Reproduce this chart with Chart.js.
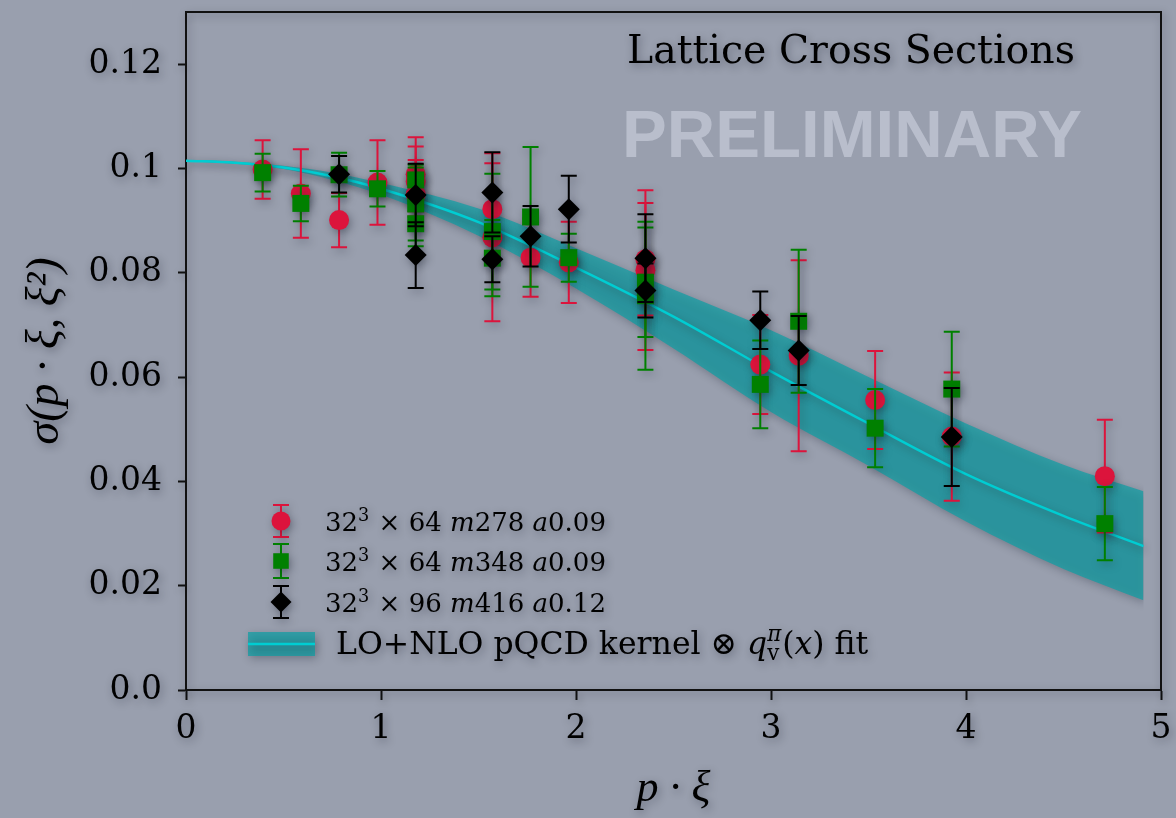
<!DOCTYPE html>
<html>
<head>
<meta charset="utf-8">
<script src="https://cdn.jsdelivr.net/npm/chart.js@4.4.1/dist/chart.umd.min.js"></script>
<style>
  html, body { margin: 0; padding: 0; background: #999fae; }
  #wrap { position: relative; width: 1176px; height: 818px; }
</style>
</head>
<body>
<div id="wrap"><canvas id="myChart"></canvas></div>
<script>
// axis ticks
const xTicks = [0, 1, 2, 3, 4, 5];
const yTicks = [0, 0.02, 0.04, 0.06, 0.08, 0.1, 0.12];
const yTickLabels = ['0.0', '0.02', '0.04', '0.06', '0.08', '0.1', '0.12'];

// 32^3 x 64 m278 a0.09
const redX = [0.393, 0.589, 0.785, 0.982, 1.178, 1.178, 1.178, 1.571, 1.571, 1.767, 1.963, 2.356, 2.356, 2.945, 3.142, 3.534, 3.927, 4.712];
const redY = [0.0998, 0.0952, 0.0901, 0.0973, 0.0989, 0.0975, 0.0950, 0.0922, 0.0868, 0.0829, 0.0820, 0.0826, 0.0805, 0.0624, 0.0641, 0.0556, 0.0486, 0.0410];
const redErr = [0.0056, 0.0085, 0.0052, 0.0081, 0.0071, 0.0067, 0.0066, 0.0088, 0.0161, 0.0075, 0.0078, 0.0108, 0.0153, 0.0095, 0.0183, 0.0094, 0.0123, 0.0108];

// 32^3 x 64 m348 a0.09
const greenX = [0.393, 0.589, 0.785, 0.982, 1.178, 1.178, 1.178, 1.571, 1.571, 1.767, 1.963, 2.356, 2.356, 2.945, 3.142, 3.534, 3.927, 4.712];
const greenY = [0.0992, 0.0933, 0.0988, 0.0961, 0.0978, 0.0932, 0.0894, 0.0879, 0.0828, 0.0907, 0.0829, 0.0782, 0.0756, 0.0586, 0.0707, 0.0502, 0.0577, 0.0319];
const greenErr = [0.0036, 0.0034, 0.0042, 0.0034, 0.0029, 0.0070, 0.0043, 0.0111, 0.0073, 0.0134, 0.0046, 0.0105, 0.0142, 0.0084, 0.0137, 0.0075, 0.0110, 0.0070];

// 32^3 x 96 m416 a0.12
const blackX = [0.785, 1.178, 1.178, 1.571, 1.571, 1.767, 1.963, 2.356, 2.356, 2.945, 3.142, 3.927];
const blackY = [0.0989, 0.0949, 0.0834, 0.0954, 0.0826, 0.0870, 0.0922, 0.0828, 0.0766, 0.0709, 0.0651, 0.0485];
const blackErr = [0.0035, 0.0060, 0.0063, 0.0077, 0.0044, 0.0058, 0.0064, 0.0084, 0.0052, 0.0055, 0.0066, 0.0094];

// pQCD kernel fit: central value and band
const fitX = [0, 0.25, 0.5, 0.75, 1.0, 1.5, 2.0, 2.5, 3.0, 3.5, 4.0, 4.5, 4.91];
const fitMid = [0.1015, 0.1011, 0.1002, 0.0985, 0.0961, 0.0897, 0.0810, 0.0716, 0.0611, 0.0511, 0.0414, 0.0334, 0.0276];
const fitHigh = [0.1016, 0.1013, 0.1005, 0.0992, 0.0972, 0.0923, 0.0847, 0.0768, 0.0690, 0.0600, 0.0511, 0.0432, 0.0381];
const fitLow = [0.1014, 0.1009, 0.0999, 0.0978, 0.0950, 0.0871, 0.0770, 0.0655, 0.0533, 0.0430, 0.0323, 0.0232, 0.0172];

const RED = '#dc143c', GREEN = '#008000', BLACK = '#000000';
const BAND = 'rgba(14, 158, 164, 0.72)', LINE = '#00cdd2';

const pts = (xs, ys) => xs.map((x, i) => ({ x: x, y: ys[i] }));

function setShadow(ctx) {
    ctx.shadowColor = 'rgba(20, 25, 40, 0.38)';
    ctx.shadowBlur = 9;
    ctx.shadowOffsetX = 2;
    ctx.shadowOffsetY = 3;
}
function clearShadow(ctx) {
    ctx.shadowColor = 'rgba(0,0,0,0)';
    ctx.shadowBlur = 0;
    ctx.shadowOffsetX = 0;
    ctx.shadowOffsetY = 0;
}

// rich text: runs of {t, it, sup, sub}
function drawRuns(ctx, runs, x, y, size, family) {
    for (const r of runs) {
        if (r.sup || r.sub) {
            const s = size * 0.68;
            let w = 0;
            if (r.sup) {
                ctx.font = (r.supIt ? 'italic ' : '') + s + 'px ' + family;
                ctx.fillText(r.sup, x, y - size * 0.4);
                w = Math.max(w, ctx.measureText(r.sup).width);
            }
            if (r.sub) {
                ctx.font = s + 'px ' + family;
                ctx.fillText(r.sub, x, y + size * 0.2);
                w = Math.max(w, ctx.measureText(r.sub).width);
            }
            x += w + 1;
            continue;
        }
        ctx.font = (r.it ? 'italic ' : '') + size + 'px ' + family;
        ctx.fillText(r.t, x, y);
        x += ctx.measureText(r.t).width;
    }
    return x;
}

function drawMarker(ctx, style, color, x, y, r) {
    ctx.fillStyle = color;
    ctx.beginPath();
    if (style === 'circle') {
        ctx.arc(x, y, r, 0, Math.PI * 2);
    } else if (style === 'rect') {
        const h = r * Math.SQRT1_2;
        ctx.rect(x - h, y - h, 2 * h, 2 * h);
    } else {
        ctx.moveTo(x - r, y); ctx.lineTo(x, y - r); ctx.lineTo(x + r, y); ctx.lineTo(x, y + r);
        ctx.closePath();
    }
    ctx.fill();
}

const shadowPlugin = {
    id: 'shadowPlugin',
    beforeDraw(chart) { setShadow(chart.ctx); },
    afterDraw(chart) { clearShadow(chart.ctx); }
};

const errorBars = {
    id: 'errorBars',
    beforeDatasetDraw(chart, args) {
        const ds = chart.data.datasets[args.index];
        if (!ds.errors) return;
        const ctx = chart.ctx, xs = chart.scales.x, ys = chart.scales.y;
        ctx.save();
        ctx.strokeStyle = ds.backgroundColor;
        ctx.lineWidth = 2;
        ds.data.forEach((p, i) => {
            const e = ds.errors[i];
            const px = xs.getPixelForValue(p.x);
            const top = ys.getPixelForValue(p.y + e);
            const bot = ys.getPixelForValue(p.y - e);
            ctx.beginPath();
            ctx.moveTo(px, top); ctx.lineTo(px, bot);
            ctx.moveTo(px - 8, top); ctx.lineTo(px + 8, top);
            ctx.moveTo(px - 8, bot); ctx.lineTo(px + 8, bot);
            ctx.stroke();
        });
        ctx.restore();
    }
};

const frameAndText = {
    id: 'frameAndText',
    beforeDatasetsDraw(chart) {
        const ctx = chart.ctx;
        ctx.save();
        clearShadow(ctx);
        ctx.fillStyle = '#b9becc';
        ctx.textBaseline = 'alphabetic';
        let size = 70;
        ctx.font = 'bold ' + size + 'px "Liberation Sans"';
        size = size * 460 / ctx.measureText('PRELIMINARY').width;
        ctx.font = 'bold ' + size + 'px "Liberation Sans"';
        ctx.fillText('PRELIMINARY', 622, 157);
        ctx.restore();
    },
    afterDraw(chart) {
        const ctx = chart.ctx, a = chart.chartArea;
        ctx.save();
        setShadow(ctx);
        ctx.strokeStyle = '#111';
        ctx.lineWidth = 2;
        ctx.beginPath();
        ctx.moveTo(a.left, a.top); ctx.lineTo(a.right, a.top); ctx.lineTo(a.right, a.bottom);
        ctx.stroke();

        // title
        ctx.fillStyle = '#000';
        ctx.textBaseline = 'alphabetic';
        let size = 34;
        ctx.font = size + 'px "DejaVu Serif"';
        size = size * 448 / ctx.measureText('Lattice Cross Sections').width;
        ctx.font = size + 'px "DejaVu Serif"';
        ctx.fillText('Lattice Cross Sections', 627, 63);

        // legend
        const fam = '"DejaVu Serif"';
        const entries = [
            { style: 'circle', color: RED, r: 9.5, y: 521, cap: 16,
              runs: [{ t: '32' }, { sup: '3' }, { t: ' × 64 ' }, { t: 'm', it: true }, { t: '278 ' }, { t: 'a', it: true }, { t: '0.09' }] },
            { style: 'rect', color: GREEN, r: 11, y: 561, cap: 17,
              runs: [{ t: '32' }, { sup: '3' }, { t: ' × 64 ' }, { t: 'm', it: true }, { t: '348 ' }, { t: 'a', it: true }, { t: '0.09' }] },
            { style: 'diamond', color: BLACK, r: 10.5, y: 602, cap: 16,
              runs: [{ t: '32' }, { sup: '3' }, { t: ' × 96 ' }, { t: 'm', it: true }, { t: '416 ' }, { t: 'a', it: true }, { t: '0.12' }] }
        ];
        entries.forEach(en => {
            ctx.strokeStyle = en.color;
            ctx.lineWidth = 2;
            ctx.beginPath();
            ctx.moveTo(281, en.y - en.cap); ctx.lineTo(281, en.y + en.cap);
            ctx.moveTo(273, en.y - en.cap); ctx.lineTo(289, en.y - en.cap);
            ctx.moveTo(273, en.y + en.cap); ctx.lineTo(289, en.y + en.cap);
            ctx.stroke();
            drawMarker(ctx, en.style, en.color, 281, en.y, en.r);
            ctx.fillStyle = '#000';
            drawRuns(ctx, en.runs, 325, en.y + 10, 26, fam);
        });
        // band entry
        ctx.fillStyle = BAND;
        ctx.fillRect(248, 632, 67, 24);
        ctx.strokeStyle = LINE;
        ctx.lineWidth = 2.5;
        ctx.beginPath();
        ctx.moveTo(248, 644); ctx.lineTo(315, 644);
        ctx.stroke();
        ctx.fillStyle = '#000';
        drawRuns(ctx, [
            { t: 'LO+NLO pQCD kernel ⊗ ' }, { t: 'q', it: true }, { sup: 'π', supIt: true, sub: 'v' },
            { t: '(' }, { t: 'x', it: true }, { t: ') fit' }
        ], 336, 654, 31.5, fam);
        ctx.restore();
    }
};

const config = {
    type: 'scatter',
    data: {
        datasets: [
            {
                label: 'black',
                data: pts(blackX, blackY),
                errors: blackErr,
                backgroundColor: BLACK,
                borderColor: BLACK,
                pointStyle: 'rectRot',
                pointRadius: 11,
                borderWidth: 0,
                order: 1
            },
            {
                label: 'green',
                data: pts(greenX, greenY),
                errors: greenErr,
                backgroundColor: GREEN,
                borderColor: GREEN,
                pointStyle: 'rect',
                pointRadius: 12,
                borderWidth: 0,
                order: 2
            },
            {
                label: 'red',
                data: pts(redX, redY),
                errors: redErr,
                backgroundColor: RED,
                borderColor: RED,
                pointStyle: 'circle',
                pointRadius: 10,
                borderWidth: 0,
                order: 3
            },
            {
                type: 'line',
                label: 'fit',
                data: pts(fitX, fitMid),
                borderColor: LINE,
                borderWidth: 2.5,
                pointRadius: 0,
                cubicInterpolationMode: 'monotone',
                fill: false,
                order: 4
            },
            {
                type: 'line',
                label: 'band low',
                data: pts(fitX, fitLow),
                borderColor: 'rgba(0,0,0,0)',
                borderWidth: 0,
                pointRadius: 0,
                cubicInterpolationMode: 'monotone',
                fill: false,
                order: 5
            },
            {
                type: 'line',
                label: 'band high',
                data: pts(fitX, fitHigh),
                borderColor: 'rgba(0,0,0,0)',
                backgroundColor: BAND,
                borderWidth: 0,
                pointRadius: 0,
                cubicInterpolationMode: 'monotone',
                fill: '-1',
                order: 6
            }
        ]
    },
    options: {
        responsive: true,
        maintainAspectRatio: false,
        animation: false,
        layout: { padding: { left: 0, right: 15, top: 12, bottom: 0 } },
        plugins: {
            legend: { display: false },
            tooltip: { enabled: false }
        },
        scales: {
            x: {
                type: 'linear',
                min: 0,
                max: 5,
                afterBuildTicks: s => { s.ticks = xTicks.map(v => ({ value: v })); },
                afterFit: s => { s.height = 128; s.paddingLeft = 0; s.paddingRight = 0; },
                ticks: {
                    color: '#000',
                    padding: 10,
                    font: { family: '"DejaVu Serif"', size: 33 },
                    callback: v => String(v)
                },
                grid: { display: true, drawOnChartArea: false, drawTicks: true, tickLength: 10, tickWidth: 2, color: '#111' },
                border: { display: true, color: '#111', width: 2 },
                title: {
                    display: true,
                    text: 'p · ξ',
                    color: '#000',
                    font: { family: '"Liberation Serif"', size: 44, style: 'italic' },
                    padding: { top: 0, bottom: 2 }
                }
            },
            y: {
                min: 0,
                max: 0.13,
                afterBuildTicks: s => { s.ticks = yTicks.map(v => ({ value: v })); },
                afterFit: s => { s.width = 186; s.paddingTop = 0; s.paddingBottom = 0; },
                ticks: {
                    color: '#000',
                    padding: 16,
                    font: { family: '"DejaVu Serif"', size: 33 },
                    callback: v => yTickLabels[yTicks.findIndex(t => Math.abs(t - v) < 1e-9)]
                },
                grid: { display: true, drawOnChartArea: false, drawTicks: true, tickLength: 8, tickWidth: 2, color: '#111' },
                border: { display: true, color: '#111', width: 2 },
                title: {
                    display: true,
                    text: 'σ(p · ξ, ξ²)',
                    color: '#000',
                    font: { family: '"Liberation Serif"', size: 46, style: 'italic' },
                    padding: { top: 18, bottom: 0 }
                }
            }
        }
    },
    plugins: [shadowPlugin, errorBars, frameAndText]
};

let myChart = new Chart(document.getElementById('myChart'), config);
</script>
</body>
</html>
